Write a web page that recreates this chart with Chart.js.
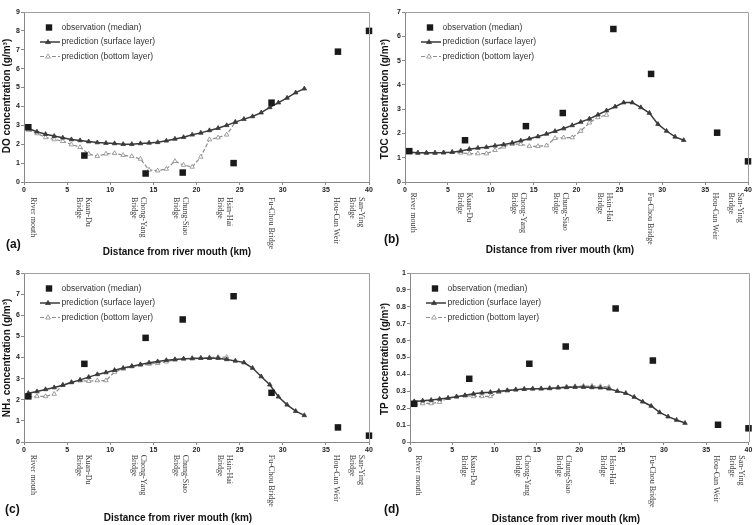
<!DOCTYPE html>
<html><head><meta charset="utf-8">
<script src="https://cdn.jsdelivr.net/npm/chart.js@4/dist/chart.umd.min.js"></script>
<style>
html,body{margin:0;padding:0;background:#fff;}
#wrap{position:relative;width:755px;height:525px;overflow:hidden;background:#fff;}
canvas{position:absolute;}
</style></head><body>
<div id="wrap">
<canvas id="ca" style="left:0px;top:0px" width="378" height="262"></canvas>
<canvas id="cb" style="left:378px;top:0px" width="377" height="262"></canvas>
<canvas id="cc" style="left:0px;top:262px" width="378" height="263"></canvas>
<canvas id="cd" style="left:378px;top:262px" width="377" height="263"></canvas>
</div>
<script>
// ---- data ----
const siteNames = ['River mouth', 'Kuan-Du\nBridge', 'Chong-Yang\nBridge', 'Chung-Siao\nBridge', 'Hsin-Hai\nBridge', 'Fu-Chou Bridge', 'Hou-Cun Weir', 'San-Ying\nBridge'];
const sitePos = [1.0, 6.9, 13.3, 18.2, 23.3, 28.6, 36.2, 38.6];
const obsDistance = [0.5, 7.0, 14.1, 18.4, 24.3, 28.7, 36.4, 40.0];
const modelDistance = [0.5, 1.5, 2.5, 3.5, 4.5, 5.5, 6.5, 7.5, 8.5, 9.5, 10.5, 11.5, 12.5, 13.5, 14.5, 15.5, 16.5, 17.5, 18.5, 19.5, 20.5, 21.5, 22.5, 23.5, 24.5, 25.5, 26.5, 27.5, 28.5, 29.5, 30.5, 31.5, 32.5];

const doObs = [2.9, 1.4, 0.45, 0.5, 1.0, 4.2, 6.9, 8.0];
const doSurface = [2.83, 2.66, 2.53, 2.43, 2.34, 2.25, 2.2, 2.14, 2.09, 2.06, 2.04, 2.0, 2.0, 2.04, 2.07, 2.1, 2.18, 2.28, 2.37, 2.5, 2.6, 2.73, 2.85, 3.0, 3.17, 3.33, 3.47, 3.67, 3.95, 4.2, 4.45, 4.73, 4.94];
const doBottom = [2.75, 2.57, 2.36, 2.25, 2.16, 1.98, 1.84, 1.49, 1.36, 1.49, 1.52, 1.42, 1.36, 1.22, 0.64, 0.6, 0.69, 1.1, 0.9, 0.8, 1.33, 2.25, 2.35, 2.5, 3.17];

const tocObs = [1.27, 1.72, 2.3, 2.84, 6.3, 4.45, 2.03, 0.85];
const tocSurface = [1.23, 1.2, 1.2, 1.2, 1.21, 1.23, 1.28, 1.35, 1.4, 1.43, 1.49, 1.54, 1.61, 1.7, 1.78, 1.87, 1.98, 2.09, 2.2, 2.33, 2.47, 2.6, 2.77, 2.94, 3.1, 3.27, 3.27, 3.07, 2.84, 2.38, 2.1, 1.86, 1.72];
const tocBottom = [1.23, 1.2, 1.2, 1.2, 1.21, 1.23, 1.2, 1.17, 1.17, 1.17, 1.31, 1.45, 1.56, 1.56, 1.47, 1.47, 1.5, 1.8, 1.83, 1.83, 2.1, 2.44, 2.66, 2.76];

const nh4Obs = [2.16, 3.7, 4.93, 5.8, 6.9, 2.33, 0.69, 0.3];
const nh4Surface = [2.31, 2.39, 2.49, 2.58, 2.69, 2.82, 2.94, 3.07, 3.2, 3.29, 3.4, 3.5, 3.59, 3.67, 3.75, 3.81, 3.87, 3.91, 3.94, 3.95, 3.97, 3.97, 3.97, 3.91, 3.84, 3.76, 3.5, 3.1, 2.71, 2.14, 1.76, 1.46, 1.26];
const nh4Bottom = [2.13, 2.16, 2.16, 2.27, 2.71, 2.83, 2.9, 2.88, 2.91, 2.91, 3.31, 3.46, 3.57, 3.64, 3.69, 3.73, 3.8, 3.89, 3.94, 3.97, 3.98, 4.0, 4.02, 4.02];

const tpObs = [0.226, 0.374, 0.463, 0.565, 0.79, 0.482, 0.102, 0.081];
const tpSurface = [0.24, 0.244, 0.248, 0.254, 0.26, 0.268, 0.276, 0.285, 0.291, 0.295, 0.301, 0.305, 0.309, 0.313, 0.315, 0.315, 0.317, 0.321, 0.323, 0.325, 0.325, 0.323, 0.321, 0.315, 0.301, 0.289, 0.266, 0.238, 0.213, 0.175, 0.15, 0.13, 0.112];
const tpBottom = [0.22, 0.228, 0.228, 0.236, 0.26, 0.268, 0.274, 0.27, 0.27, 0.27, 0.295, 0.305, 0.311, 0.313, 0.315, 0.317, 0.319, 0.323, 0.327, 0.329, 0.331, 0.331, 0.329, 0.325];

const legendLabels = ['observation (median)', 'prediction (surface layer)', 'prediction (bottom layer)'];
const xTitle = 'Distance from river mouth (km)';

// ---- drawing ----
const SANS = '"Liberation Sans", Arial, sans-serif';
const SERIF = '"Liberation Serif", "Times New Roman", serif';
const C_OBS = '#1a1a1a', C_SURF = '#3a3a3a', C_BOT = '#8c8c8c';

function pts(xs, ys) { return ys.map((v, i) => ({ x: xs[i], y: v })); }

function tri(ctx, x, y, r, fill, stroke) {
  ctx.beginPath();
  ctx.moveTo(x, y - r);
  ctx.lineTo(x + r * 0.95, y + r * 0.6);
  ctx.lineTo(x - r * 0.95, y + r * 0.6);
  ctx.closePath();
  ctx.fillStyle = fill; ctx.fill();
  ctx.strokeStyle = stroke; ctx.lineWidth = 0.8; ctx.stroke();
}

const deco = {
  id: 'deco',
  afterDraw(chart, args, o) {
    const ctx = chart.ctx, a = chart.chartArea, xs = chart.scales.x;
    ctx.save();
    // frame top/right
    ctx.strokeStyle = '#a0a0a0'; ctx.lineWidth = 1;
    ctx.beginPath();
    ctx.moveTo(a.left, Math.round(a.top) + 0.5);
    ctx.lineTo(Math.round(a.right) + 0.5, Math.round(a.top) + 0.5);
    ctx.lineTo(Math.round(a.right) + 0.5, a.bottom);
    ctx.stroke();
    // site labels
    ctx.fillStyle = '#3c3c3c';
    ctx.font = '8px ' + SERIF;
    ctx.textAlign = 'left'; ctx.textBaseline = 'middle';
    siteNames.forEach((name, i) => {
      const lines = name.split('\n');
      const cx = xs.getPixelForValue(sitePos[i]);
      const n = lines.length;
      lines.forEach((ln, j) => {
        ctx.save();
        ctx.translate(cx + ((n - 1) / 2 - j) * 9, a.bottom + o.catOffset);
        ctx.rotate(Math.PI / 2);
        ctx.fillText(ln, 0, 0);
        ctx.restore();
      });
    });
    // y title
    ctx.fillStyle = '#111';
    ctx.font = 'bold 10px ' + SANS;
    ctx.textAlign = 'center'; ctx.textBaseline = 'middle';
    ctx.save();
    ctx.translate(o.yTitleX, o.yTitleY);
    ctx.rotate(-Math.PI / 2);
    ctx.fillText(o.yTitle, 0, 0);
    ctx.restore();
    // x title
    ctx.fillText(xTitle, o.xTitleX, o.xTitleY);
    // panel label
    ctx.font = 'bold 12px ' + SANS;
    ctx.textAlign = 'left';
    ctx.fillText(o.panel, o.panelX, o.panelY);
    // legend
    const lx = a.left, ly = a.top + 15.5, dy = 14.5;
    ctx.font = '8.5px ' + SANS;
    ctx.fillStyle = '#333'; ctx.textBaseline = 'middle';
    ctx.fillStyle = C_OBS;
    ctx.fillRect(lx + 25 - 3.2, ly - 3.2, 6.4, 6.4);
    ctx.strokeStyle = C_SURF; ctx.lineWidth = 1.5;
    ctx.beginPath(); ctx.moveTo(lx + 16, ly + dy); ctx.lineTo(lx + 36, ly + dy); ctx.stroke();
    tri(ctx, lx + 24, ly + dy, 2.6, C_SURF, C_SURF);
    ctx.strokeStyle = C_BOT; ctx.lineWidth = 1.2; ctx.setLineDash([4, 2]);
    ctx.beginPath(); ctx.moveTo(lx + 16, ly + 2 * dy); ctx.lineTo(lx + 36, ly + 2 * dy); ctx.stroke();
    ctx.setLineDash([]);
    tri(ctx, lx + 24, ly + 2 * dy, 2.6, '#fff', C_BOT);
    ctx.fillStyle = '#333';
    legendLabels.forEach((t, i) => ctx.fillText(t, lx + 37.5, ly + i * dy));
    ctx.restore();
  }
};

function makeChart(id, cfg) {
  const tickFont = { family: SANS, size: 7, weight: 'bold' };
  return new Chart(document.getElementById(id), {
    type: 'scatter',
    data: {
      datasets: [
        { label: legendLabels[0], data: pts(obsDistance, cfg.obs), showLine: false, pointStyle: 'rect', pointRadius: 4.6, pointBackgroundColor: C_OBS, pointBorderColor: C_OBS, pointBorderWidth: 0, clip: false, order: 0 },
        { label: legendLabels[1], data: pts(modelDistance, cfg.surf), showLine: true, borderColor: C_SURF, borderWidth: 1.5, pointStyle: 'triangle', pointRadius: 2.6, pointBackgroundColor: C_SURF, pointBorderColor: C_SURF, pointBorderWidth: 0.8, tension: 0, order: 1 },
        { label: legendLabels[2], data: pts(modelDistance, cfg.bot), showLine: true, borderColor: C_BOT, borderWidth: 1.2, borderDash: [4, 2], pointStyle: 'triangle', pointRadius: 2.6, pointBackgroundColor: '#fff', pointBorderColor: C_BOT, pointBorderWidth: 0.8, tension: 0, order: 2 }
      ]
    },
    options: {
      responsive: false, animation: false, devicePixelRatio: 1, events: [],
      layout: { padding: { left: 0, top: cfg.padTop, right: cfg.padRight, bottom: 0 } },
      plugins: {
        legend: { display: false }, tooltip: { enabled: false },
        deco: cfg.deco
      },
      scales: {
        x: {
          type: 'linear', min: 0, max: 40,
          ticks: { stepSize: 5, font: tickFont, color: '#222', padding: 1, maxRotation: 0, autoSkip: false },
          grid: { drawOnChartArea: false, tickLength: 3, color: '#888' },
          border: { color: '#888', width: 1 },
          afterFit: s => { s.height = cfg.xH; }
        },
        y: {
          min: 0, max: cfg.ymax,
          ticks: { stepSize: cfg.step, font: tickFont, color: '#222', padding: 1, callback: v => String(Math.round(v * 10) / 10) },
          grid: { drawOnChartArea: false, tickLength: 3, color: '#888' },
          border: { color: '#888', width: 1 },
          afterFit: s => { s.width = cfg.yW; }
        }
      }
    },
    plugins: [deco]
  });
}

makeChart('ca', { obs: doObs, surf: doSurface, bot: doBottom, ymax: 9, step: 1, padTop: 12, padRight: 9, yW: 24, xH: 80,
  deco: { yTitle: 'DO concentration (g/m³)', yTitleX: 7.5, yTitleY: 96, xTitleX: 177, xTitleY: 252, panel: '(a)', panelX: 6, panelY: 245, catOffset: 15 } });
makeChart('cb', { obs: tocObs, surf: tocSurface, bot: tocBottom, ymax: 7, step: 1, padTop: 12, padRight: 7, yW: 27, xH: 80,
  deco: { yTitle: 'TOC concentration (g/m³)', yTitleX: 7.5, yTitleY: 99, xTitleX: 182, xTitleY: 250, panel: '(b)', panelX: 6, panelY: 240, catOffset: 10.5 } });
makeChart('cc', { obs: nh4Obs, surf: nh4Surface, bot: nh4Bottom, ymax: 8, step: 1, padTop: 11, padRight: 9, yW: 24, xH: 83,
  deco: { yTitle: 'NH₄ concentration (g/m³)', yTitleX: 7, yTitleY: 96, xTitleX: 178, xTitleY: 256, panel: '(c)', panelX: 5, panelY: 248, catOffset: 12.7 } });
makeChart('cd', { obs: tpObs, surf: tpSurface, bot: tpBottom, ymax: 1, step: 0.1, padTop: 11, padRight: 6.5, yW: 32, xH: 83,
  deco: { yTitle: 'TP concentration (g/m³)', yTitleX: 7.5, yTitleY: 97, xTitleX: 188, xTitleY: 257.5, panel: '(d)', panelX: 6, panelY: 248, catOffset: 13.3 } });
</script>
</body></html>
